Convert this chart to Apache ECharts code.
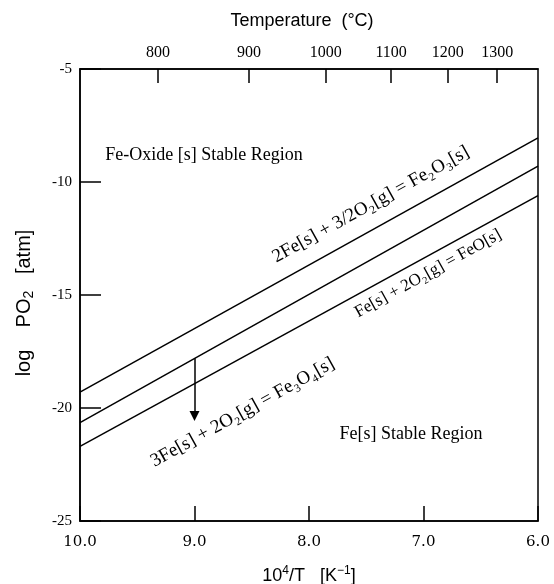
<!DOCTYPE html>
<html>
<head>
<meta charset="utf-8">
<script src="https://cdn.jsdelivr.net/npm/echarts@6/dist/echarts.min.js"></script>
<style>
  html, body { margin: 0; padding: 0; background: #fff; }
  #chart { width: 554px; height: 584px; }
</style>
</head>
<body>
<div id="chart"></div>
<script>
// 10^4/T at the two ends of each equilibrium line
const invT = [10, 6];
const fe2o3Line = [-19.3, -8.05];
const feoLine = [-20.65, -9.3];
const fe3o4Line = [-21.7, -10.6];

// top axis: temperatures in °C
const tempC = [800, 900, 1000, 1100, 1200, 1300];

// arrow from the middle line down to the Fe3O4 label
const arrowX = [9.0, 9.0];
const arrowY = [-17.8, -20.35];

// text annotations (data coords)
const noteText = ['2Fe[s] + 3/2O₂[g] = Fe₂O₃[s]', 'Fe[s] + 2O₂[g] = FeO[s]', '3Fe[s] + 2O₂[g] = Fe₃O₄[s]'];
const noteX = [7.46, 6.96, 8.58];
const noteY = [-11.0, -14.05, -20.2];
const noteSize = [19, 17, 19];
const noteAngle = [29, 29, 29];

const regionText = ['Fe-Oxide [s] Stable Region', 'Fe[s] Stable Region'];
const regionX = [9.78, 7.11];
const regionY = [-8.8, -21.15];

const tempPos = tempC.map(t => 10000 / (t + 273.15));

const serif = 'Liberation Serif';
const sans = 'Liberation Sans';
const ink = '#000';

function pairs(xs, ys) {
  return xs.map((x, i) => [x, ys[i]]);
}

const chart = echarts.init(document.getElementById('chart'));

const lineStyle = { color: ink, width: 1.5, opacity: 1 };

const option = {
  animation: false,
  backgroundColor: '#fff',
  grid: {
    left: 80, right: 16, top: 69, bottom: 63,
    outerBoundsMode: 'none',
    containLabel: false,
    show: true, borderColor: ink, borderWidth: 1.5
  },
  xAxis: [
    {
      type: 'value', min: 6, max: 10, interval: 1, inverse: true,
      position: 'bottom',
      name: '10{sup|4}/T   [K{sup|−1}]', nameLocation: 'middle', nameGap: 44,
      nameTextStyle: {
        fontFamily: sans, fontSize: 18, color: ink, lineHeight: 22,
        rich: { sup: { fontFamily: sans, fontSize: 12, lineHeight: 12, verticalAlign: 'top', color: ink } }
      },
      axisLine: { show: true, lineStyle: { color: ink, width: 1.5 } },
      axisTick: { show: true, inside: true, length: 15, lineStyle: { color: ink, width: 1.5 } },
      axisLabel: {
        fontFamily: 'DejaVu Serif', fontSize: 15, color: ink, margin: 14,
        formatter: v => v.toFixed(1)
      },
      splitLine: { show: false }
    },
    {
      type: 'value', min: 6, max: 10, inverse: true,
      position: 'top',
      name: 'Temperature  (°C)', nameLocation: 'middle', nameGap: 39,
      nameTextStyle: { fontFamily: sans, fontSize: 18, color: ink, padding: [0, 14, 0, 0] },
      axisLine: { show: true, lineStyle: { color: ink, width: 1.5 } },
      axisTick: { show: true, inside: true, length: 14, customValues: tempPos, lineStyle: { color: ink, width: 1.5 } },
      axisLabel: {
        fontFamily: serif, fontSize: 16, color: ink, margin: 8,
        customValues: tempPos,
        formatter: v => {
          let best = 0;
          tempPos.forEach((p, i) => { if (Math.abs(p - v) < Math.abs(tempPos[best] - v)) best = i; });
          return String(tempC[best]);
        }
      },
      splitLine: { show: false }
    }
  ],
  yAxis: {
    type: 'value', min: -25, max: -5, interval: 5,
    name: 'log    PO{sub|2}   [atm]', nameLocation: 'middle', nameGap: 44,
    nameTextStyle: {
      fontFamily: sans, fontSize: 20, color: ink, lineHeight: 24,
      padding: [0, 16, 0, 0],
      rich: { sub: { fontFamily: sans, fontSize: 14, lineHeight: 14, verticalAlign: 'bottom', color: ink } }
    },
    axisLine: { show: true, lineStyle: { color: ink, width: 1.5 } },
    axisTick: { show: true, inside: true, length: 21, lineStyle: { color: ink, width: 1.5 } },
    axisLabel: { fontFamily: serif, fontSize: 15, color: ink, margin: 8 },
    splitLine: { show: false }
  },
  series: [
    { type: 'line', data: pairs(invT, fe2o3Line), symbol: 'none', lineStyle: lineStyle, silent: true },
    { type: 'line', data: pairs(invT, feoLine), symbol: 'none', lineStyle: lineStyle, silent: true },
    { type: 'line', data: pairs(invT, fe3o4Line), symbol: 'none', lineStyle: lineStyle, silent: true },
    {
      type: 'lines', coordinateSystem: 'cartesian2d', silent: true,
      symbol: ['none', 'triangle'], symbolSize: [0, 10],
      lineStyle: { color: ink, width: 1.5, opacity: 1, curveness: 0 },
      itemStyle: { color: ink, opacity: 1 },
      data: [{ coords: pairs(arrowX, arrowY) }]
    },
    {
      type: 'scatter', symbolSize: 0, silent: true,
      itemStyle: { opacity: 1 },
      data: noteText.map((t, i) => ({
        value: [noteX[i], noteY[i]],
        label: { formatter: t, rotate: noteAngle[i], fontSize: noteSize[i] }
      })),
      label: {
        show: true, position: 'inside', fontFamily: serif, color: ink, opacity: 1
      }
    },
    {
      type: 'scatter', symbolSize: 0, silent: true,
      itemStyle: { opacity: 1 },
      data: regionText.map((t, i) => ({
        value: [regionX[i], regionY[i]],
        label: { formatter: t, align: i === 0 ? 'left' : 'center' }
      })),
      label: {
        show: true, position: 'inside', fontFamily: serif, fontSize: 18, color: ink, opacity: 1
      }
    }
  ]
};

chart.setOption(option);
window.addEventListener('resize', function () {
  chart.resize();
});
</script>
</body>
</html>
